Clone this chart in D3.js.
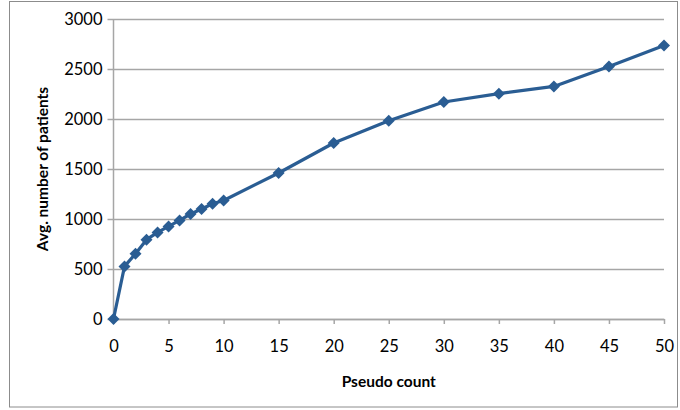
<!DOCTYPE html>
<html>
<head>
<meta charset="utf-8">
<script src="https://cdn.jsdelivr.net/npm/d3@7"></script>
<style>
  body { margin: 0; background: #fff; }
  text { font-family: Lato, "Open Sans", sans-serif; fill: #000; }
</style>
</head>
<body>
<div id="chart"></div>
<script>
// data
const pseudoCounts = [0, 1, 2, 3, 4, 5, 6, 7, 8, 9, 10, 15, 20, 25, 30, 35, 40, 45, 50];
const avgPatients = [0, 526, 653, 793, 866, 926, 986, 1050, 1100, 1153, 1185, 1460, 1760, 1983, 2170, 2253, 2326, 2526, 2736];
const xTicks = [0, 5, 10, 15, 20, 25, 30, 35, 40, 45, 50];
const yTicks = [0, 500, 1000, 1500, 2000, 2500, 3000];

const W = 680, H = 410;
const margin = {top: 19, right: 16, bottom: 91, left: 113.5},
  width = W - margin.left - margin.right,
  height = H - margin.top - margin.bottom;

const svg = d3.select("#chart")
  .append("svg")
  .attr("width", W)
  .attr("height", H);

// outer frame
svg.append("rect")
  .attr("x", 9.5).attr("y", 1.5)
  .attr("width", 668).attr("height", 405.5)
  .attr("fill", "none")
  .attr("stroke", "#8c8c8c")
  .attr("stroke-width", 1);

const g = svg.append("g")
  .attr("transform", `translate(${margin.left},${margin.top})`);

const x = d3.scaleLinear().domain([0, 50]).range([0, width]);
const y = d3.scaleLinear().domain([0, 3000]).range([height, 0]);

// gridlines + y axis ticks
const yAxis = g.append("g")
  .call(d3.axisLeft(y).tickValues(yTicks).tickFormat(d3.format("d"))
    .tickSize(-width).tickSizeOuter(0).tickPadding(11));
yAxis.select(".domain").remove();
yAxis.selectAll("line")
  .attr("x1", -6)
  .attr("stroke", "#a6a6a6")
  .attr("stroke-width", 1.5);
yAxis.selectAll("text")
  .style("font-size", "16.5px");

// y axis line
g.append("line")
  .attr("x1", 0).attr("x2", 0)
  .attr("y1", 0).attr("y2", height)
  .attr("stroke", "#a6a6a6")
  .attr("stroke-width", 1.5);

// x axis
const xAxis = g.append("g")
  .attr("transform", `translate(0,${height})`)
  .call(d3.axisBottom(x).tickValues(xTicks).tickFormat(d3.format("d"))
    .tickSize(5).tickSizeOuter(0).tickPadding(16));
xAxis.select(".domain").attr("stroke", "#a6a6a6").attr("stroke-width", 1.5);
xAxis.selectAll("line").attr("stroke", "#a6a6a6").attr("stroke-width", 1.5);
xAxis.selectAll("text").style("font-size", "16.5px");

// line
const color = "#2a5d93";
g.append("path")
  .datum(pseudoCounts.map((c, i) => [c, avgPatients[i]]))
  .attr("fill", "none")
  .attr("stroke", color)
  .attr("stroke-width", 3.2)
  .attr("stroke-linejoin", "round")
  .attr("d", d3.line().x(d => x(d[0])).y(d => y(d[1])));

// diamond markers
g.selectAll("path.mark")
  .data(pseudoCounts.map((c, i) => [c, avgPatients[i]]))
  .join("path")
  .attr("class", "mark")
  .attr("transform", d => `translate(${x(d[0])},${y(d[1])})`)
  .attr("d", "M0,-6L6,0L0,6L-6,0Z")
  .attr("fill", color);

// axis titles
svg.append("text")
  .attr("x", margin.left + width / 2)
  .attr("y", 387)
  .attr("text-anchor", "middle")
  .style("font-size", "15.5px")
  .style("font-weight", "bold")
  .text("Pseudo count");

svg.append("text")
  .attr("transform", "translate(48,169) rotate(-90)")
  .attr("text-anchor", "middle")
  .style("font-size", "15.5px")
  .style("font-weight", "bold")
  .text("Avg. number of patients");
</script>
</body>
</html>
